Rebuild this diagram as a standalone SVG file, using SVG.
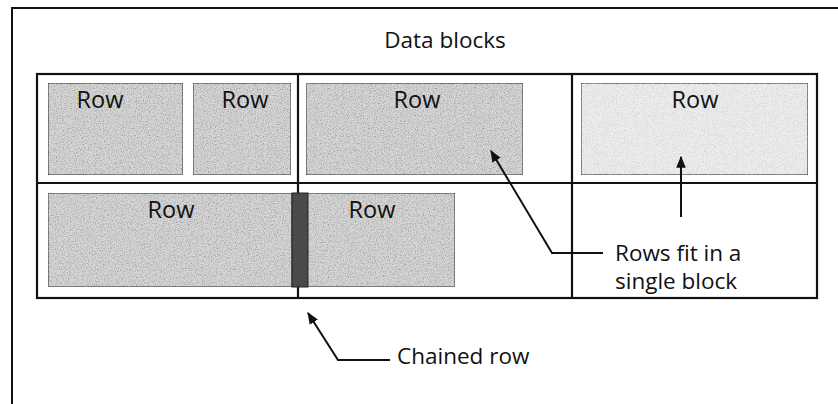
<svg xmlns="http://www.w3.org/2000/svg" width="838" height="404" viewBox="0 0 838 404">
  <style>
    .frame { fill: none; stroke: #111; stroke-width: 2; }
    .grid { fill: none; stroke: #111; stroke-width: 2.2; }
    .row { fill: #d6d6d6; stroke: #333; stroke-width: 1.2; filter: url(#grain); }
    .row.light { fill: #ececec; filter: url(#grain-light); }
    .chain { fill: #4a4a4a; stroke: #222; stroke-width: 1; }
    .label { font-family: "Open Sans", "Noto Sans", sans-serif; font-size: 23.5px; fill: #111; }
    .cap { font-family: "Open Sans", "Noto Sans", sans-serif; font-size: 22.5px; fill: #111; }
    .conn { fill: none; stroke: #111; stroke-width: 2; marker-end: url(#head); }
  </style>
  <defs>
    <marker id="head" viewBox="0 0 10 10" refX="9" refY="5" markerWidth="6" markerHeight="6" markerUnits="strokeWidth" orient="auto">
      <path d="M0,1 L10,5 L0,9 Z" fill="#111"/>
    </marker>
    <!-- speckled grey texture for the row fills -->
    <filter id="grain" x="0" y="0" width="100%" height="100%">
      <feTurbulence type="fractalNoise" baseFrequency="0.85" numOctaves="2" seed="3" result="noise"/>
      <feColorMatrix in="noise" type="matrix" values="0 0 0 0 0.3  0 0 0 0 0.3  0 0 0 0 0.3  0 0 0 -2.2 1.25" result="dots"/>
      <feComposite in="dots" in2="SourceGraphic" operator="in" result="clipped"/>
      <feComposite in="clipped" in2="SourceGraphic" operator="over"/>
    </filter>
    <filter id="grain-light" x="0" y="0" width="100%" height="100%">
      <feTurbulence type="fractalNoise" baseFrequency="0.9" numOctaves="2" seed="7" result="noise"/>
      <feColorMatrix in="noise" type="matrix" values="0 0 0 0 0.5  0 0 0 0 0.5  0 0 0 0 0.5  0 0 0 -1.6 0.85" result="dots"/>
      <feComposite in="dots" in2="SourceGraphic" operator="in" result="clipped"/>
      <feComposite in="clipped" in2="SourceGraphic" operator="over"/>
    </filter>
  </defs>

  <rect width="838" height="404" fill="#fff"/>

  <!-- outer frame: top and left edges -->
  <path class="frame" d="M12,404 V8 H838"/>

  <text class="cap" x="445" y="48" text-anchor="middle">Data blocks</text>

  <!-- block grid -->
  <g id="blocks">
    <rect class="grid" x="37" y="74" width="780" height="224"/>
    <line class="grid" x1="37" y1="183" x2="817" y2="183"/>
    <line class="grid" x1="298" y1="74" x2="298" y2="298"/>
    <line class="grid" x1="572" y1="74" x2="572" y2="298"/>
  </g>

  <g id="row-1">
    <rect class="row" x="48" y="83" width="135" height="92"/>
    <text class="label" x="100" y="108" text-anchor="middle">Row</text>
  </g>
  <g id="row-2">
    <rect class="row" x="193" y="83" width="98" height="92"/>
    <text class="label" x="245" y="108" text-anchor="middle">Row</text>
  </g>
  <g id="row-3">
    <rect class="row" x="306" y="83" width="217" height="92"/>
    <text class="label" x="417" y="108" text-anchor="middle">Row</text>
  </g>
  <g id="row-4">
    <rect class="row light" x="581" y="83" width="227" height="92"/>
    <text class="label" x="695" y="108" text-anchor="middle">Row</text>
  </g>
  <g id="row-5">
    <rect class="row" x="48" y="193" width="244" height="94"/>
    <text class="label" x="171" y="218" text-anchor="middle">Row</text>
  </g>
  <g id="chain-piece">
    <rect class="chain" x="292" y="193" width="16" height="94"/>
  </g>
  <g id="row-6">
    <rect class="row" x="308" y="193" width="147" height="94"/>
    <text class="label" x="372" y="218" text-anchor="middle">Row</text>
  </g>

  <g id="connectors">
    <path class="conn" d="M603,253 H552 L491,151"/>
    <path class="conn" d="M681,217 V157"/>
    <path class="conn" d="M390,360 H338 L308,313"/>
  </g>

  <g id="note-fit">
    <text class="cap" x="615" y="261">Rows fit in a</text>
    <text class="cap" x="615" y="289">single block</text>
  </g>
  <g id="note-chain">
    <text class="cap" x="397" y="364">Chained row</text>
  </g>
</svg>
